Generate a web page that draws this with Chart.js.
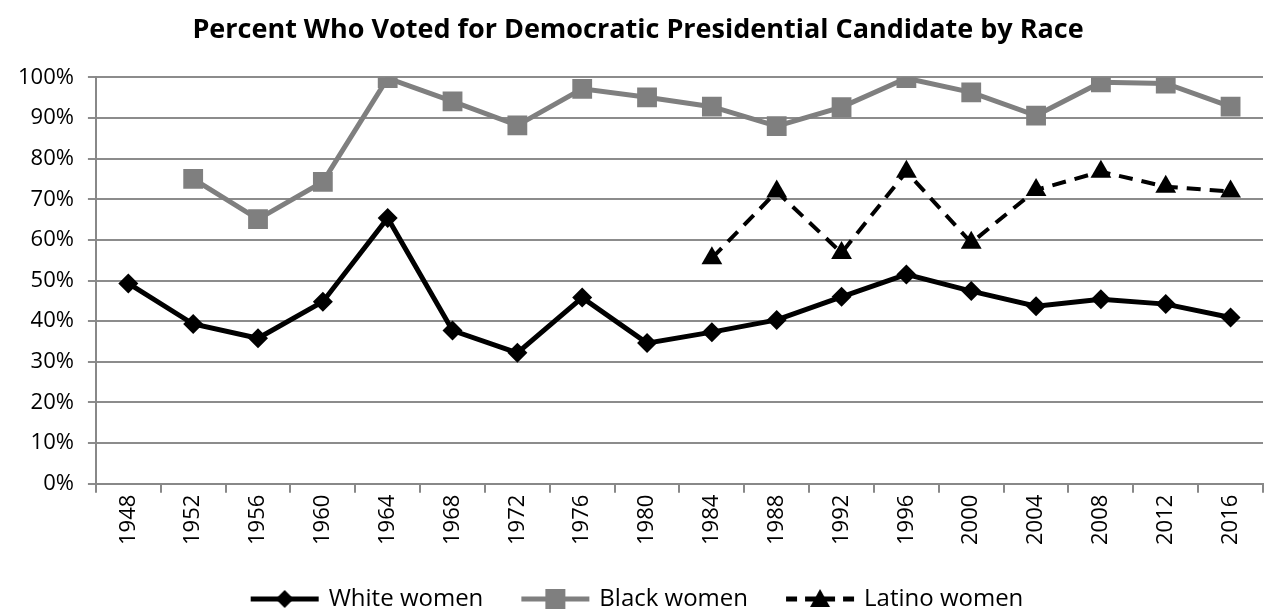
<!DOCTYPE html>
<html>
<head>
<meta charset="utf-8">
<script src="https://cdn.jsdelivr.net/npm/chart.js@4/dist/chart.umd.min.js"></script>
<style>
  html, body { margin: 0; padding: 0; background: #fff; }
  #wrap { width: 1277px; height: 614px; }
</style>
</head>
<body>
<div id="wrap"><canvas id="raceChart" width="1277" height="614"></canvas></div>
<script>
var years = ['1948', '1952', '1956', '1960', '1964', '1968', '1972', '1976', '1980',
             '1984', '1988', '1992', '1996', '2000', '2004', '2008', '2012', '2016'];
var whiteWomen  = [49.3, 39.3, 35.8, 44.8, 65.4, 37.7, 32.2, 45.8, 34.6,
                   37.3, 40.3, 46.0, 51.5, 47.4, 43.7, 45.4, 44.2, 40.9];
var blackWomen  = [null, 75.0, 65.1, 74.3, 99.8, 94.1, 88.2, 97.2, 95.1,
                   92.8, 88.0, 92.7, 99.8, 96.3, 90.6, 98.8, 98.5, 92.8];
var latinoWomen = [null, null, null, null, null, null, null, null, null,
                   55.5, 71.9, 56.8, 76.8, 59.3, 72.3, 76.8, 73.1, 71.9];
var yTicks = [0, 10, 20, 30, 40, 50, 60, 70, 80, 90, 100];

var FONT = "'Open Sans', sans-serif";
var gray = '#7f7f7f';

// legend swatch: line + marker on a small canvas (a bit wider than the legend box
// so the text sits closer to the line)
function legendIcon(color, shape, dashed) {
    var c = document.createElement('canvas');
    c.width = 72; c.height = 24;
    var g = c.getContext('2d');
    g.strokeStyle = color;
    g.fillStyle = color;
    g.lineWidth = 5;
    if (dashed) {
        g.setLineDash([11, 8]);
    }
    g.beginPath();
    g.moveTo(2, 12);
    g.lineTo(70, 12);
    g.stroke();
    g.setLineDash([]);
    g.beginPath();
    if (shape === 'diamond') {
        g.moveTo(36, 3); g.lineTo(45, 12); g.lineTo(36, 21); g.lineTo(27, 12);
    } else if (shape === 'square') {
        g.rect(26, 2, 20, 20);
    } else {
        g.moveTo(36, 2); g.lineTo(46, 20); g.lineTo(26, 20);
    }
    g.closePath();
    g.fill();
    return c;
}

var icons = [
    legendIcon('#000', 'diamond', false),
    legendIcon(gray, 'square', false),
    legendIcon('#000', 'triangle', true)
];

var ctx = document.getElementById('raceChart');
var raceChart = new Chart(ctx, {
    type: 'line',
    data: {
        labels: years,
        datasets: [
            {
                label: 'White women',
                data: whiteWomen,
                borderColor: '#000',
                backgroundColor: '#000',
                borderWidth: 5,
                pointStyle: 'rectRot',
                pointRadius: 10,
                pointBorderWidth: 0,
                tension: 0
            },
            {
                label: 'Black women',
                data: blackWomen,
                borderColor: gray,
                backgroundColor: gray,
                borderWidth: 5,
                pointStyle: 'rect',
                pointRadius: 14,
                pointBorderWidth: 0,
                tension: 0
            },
            {
                label: 'Latino women',
                data: latinoWomen,
                borderColor: '#000',
                backgroundColor: '#000',
                borderWidth: 4,
                borderDash: [14, 9],
                pointStyle: 'triangle',
                pointRadius: 12,
                pointBorderWidth: 0,
                tension: 0
            }
        ]
    },
    options: {
        responsive: false,
        animation: false,
        layout: { padding: { left: 4, right: 5, top: 0, bottom: -7 } },
        plugins: {
            title: {
                display: true,
                text: 'Percent Who Voted for Democratic Presidential Candidate by Race',
                color: '#000',
                font: { family: FONT, size: 27, weight: 'bold' },
                padding: { top: 14, bottom: 31 }
            },
            legend: {
                position: 'bottom',
                labels: {
                    usePointStyle: true,
                    pointStyleWidth: 64,
                    boxHeight: 24,
                    padding: 40,
                    color: '#000',
                    font: { family: FONT, size: 24 },
                    generateLabels: function (chart) {
                        return chart.data.datasets.map(function (ds, i) {
                            return {
                                text: ds.label,
                                pointStyle: icons[i],
                                fillStyle: ds.borderColor,
                                strokeStyle: ds.borderColor,
                                lineWidth: 0,
                                fontColor: '#000',
                                datasetIndex: i
                            };
                        });
                    }
                }
            },
            tooltip: { enabled: false }
        },
        scales: {
            x: {
                offset: true,
                grid: {
                    offset: true,
                    drawOnChartArea: false,
                    drawTicks: true,
                    tickLength: 9,
                    color: '#888',
                    lineWidth: 2
                },
                border: { color: '#888', width: 2 },
                ticks: {
                    color: '#000',
                    font: { family: FONT, size: 22 },
                    minRotation: 90,
                    maxRotation: 90,
                    autoSkip: false,
                    padding: 2
                }
            },
            y: {
                min: 0,
                max: 100,
                afterBuildTicks: function (scale) {
                    scale.ticks = yTicks.map(function (v) { return { value: v }; });
                },
                grid: {
                    color: '#8c8c8c',
                    lineWidth: 2,
                    tickLength: 8
                },
                border: { color: '#888', width: 2 },
                ticks: {
                    color: '#000',
                    font: { family: FONT, size: 22 },
                    padding: 14,
                    callback: function (v) { return v + '%'; }
                }
            }
        }
    }
});
</script>
</body>
</html>
